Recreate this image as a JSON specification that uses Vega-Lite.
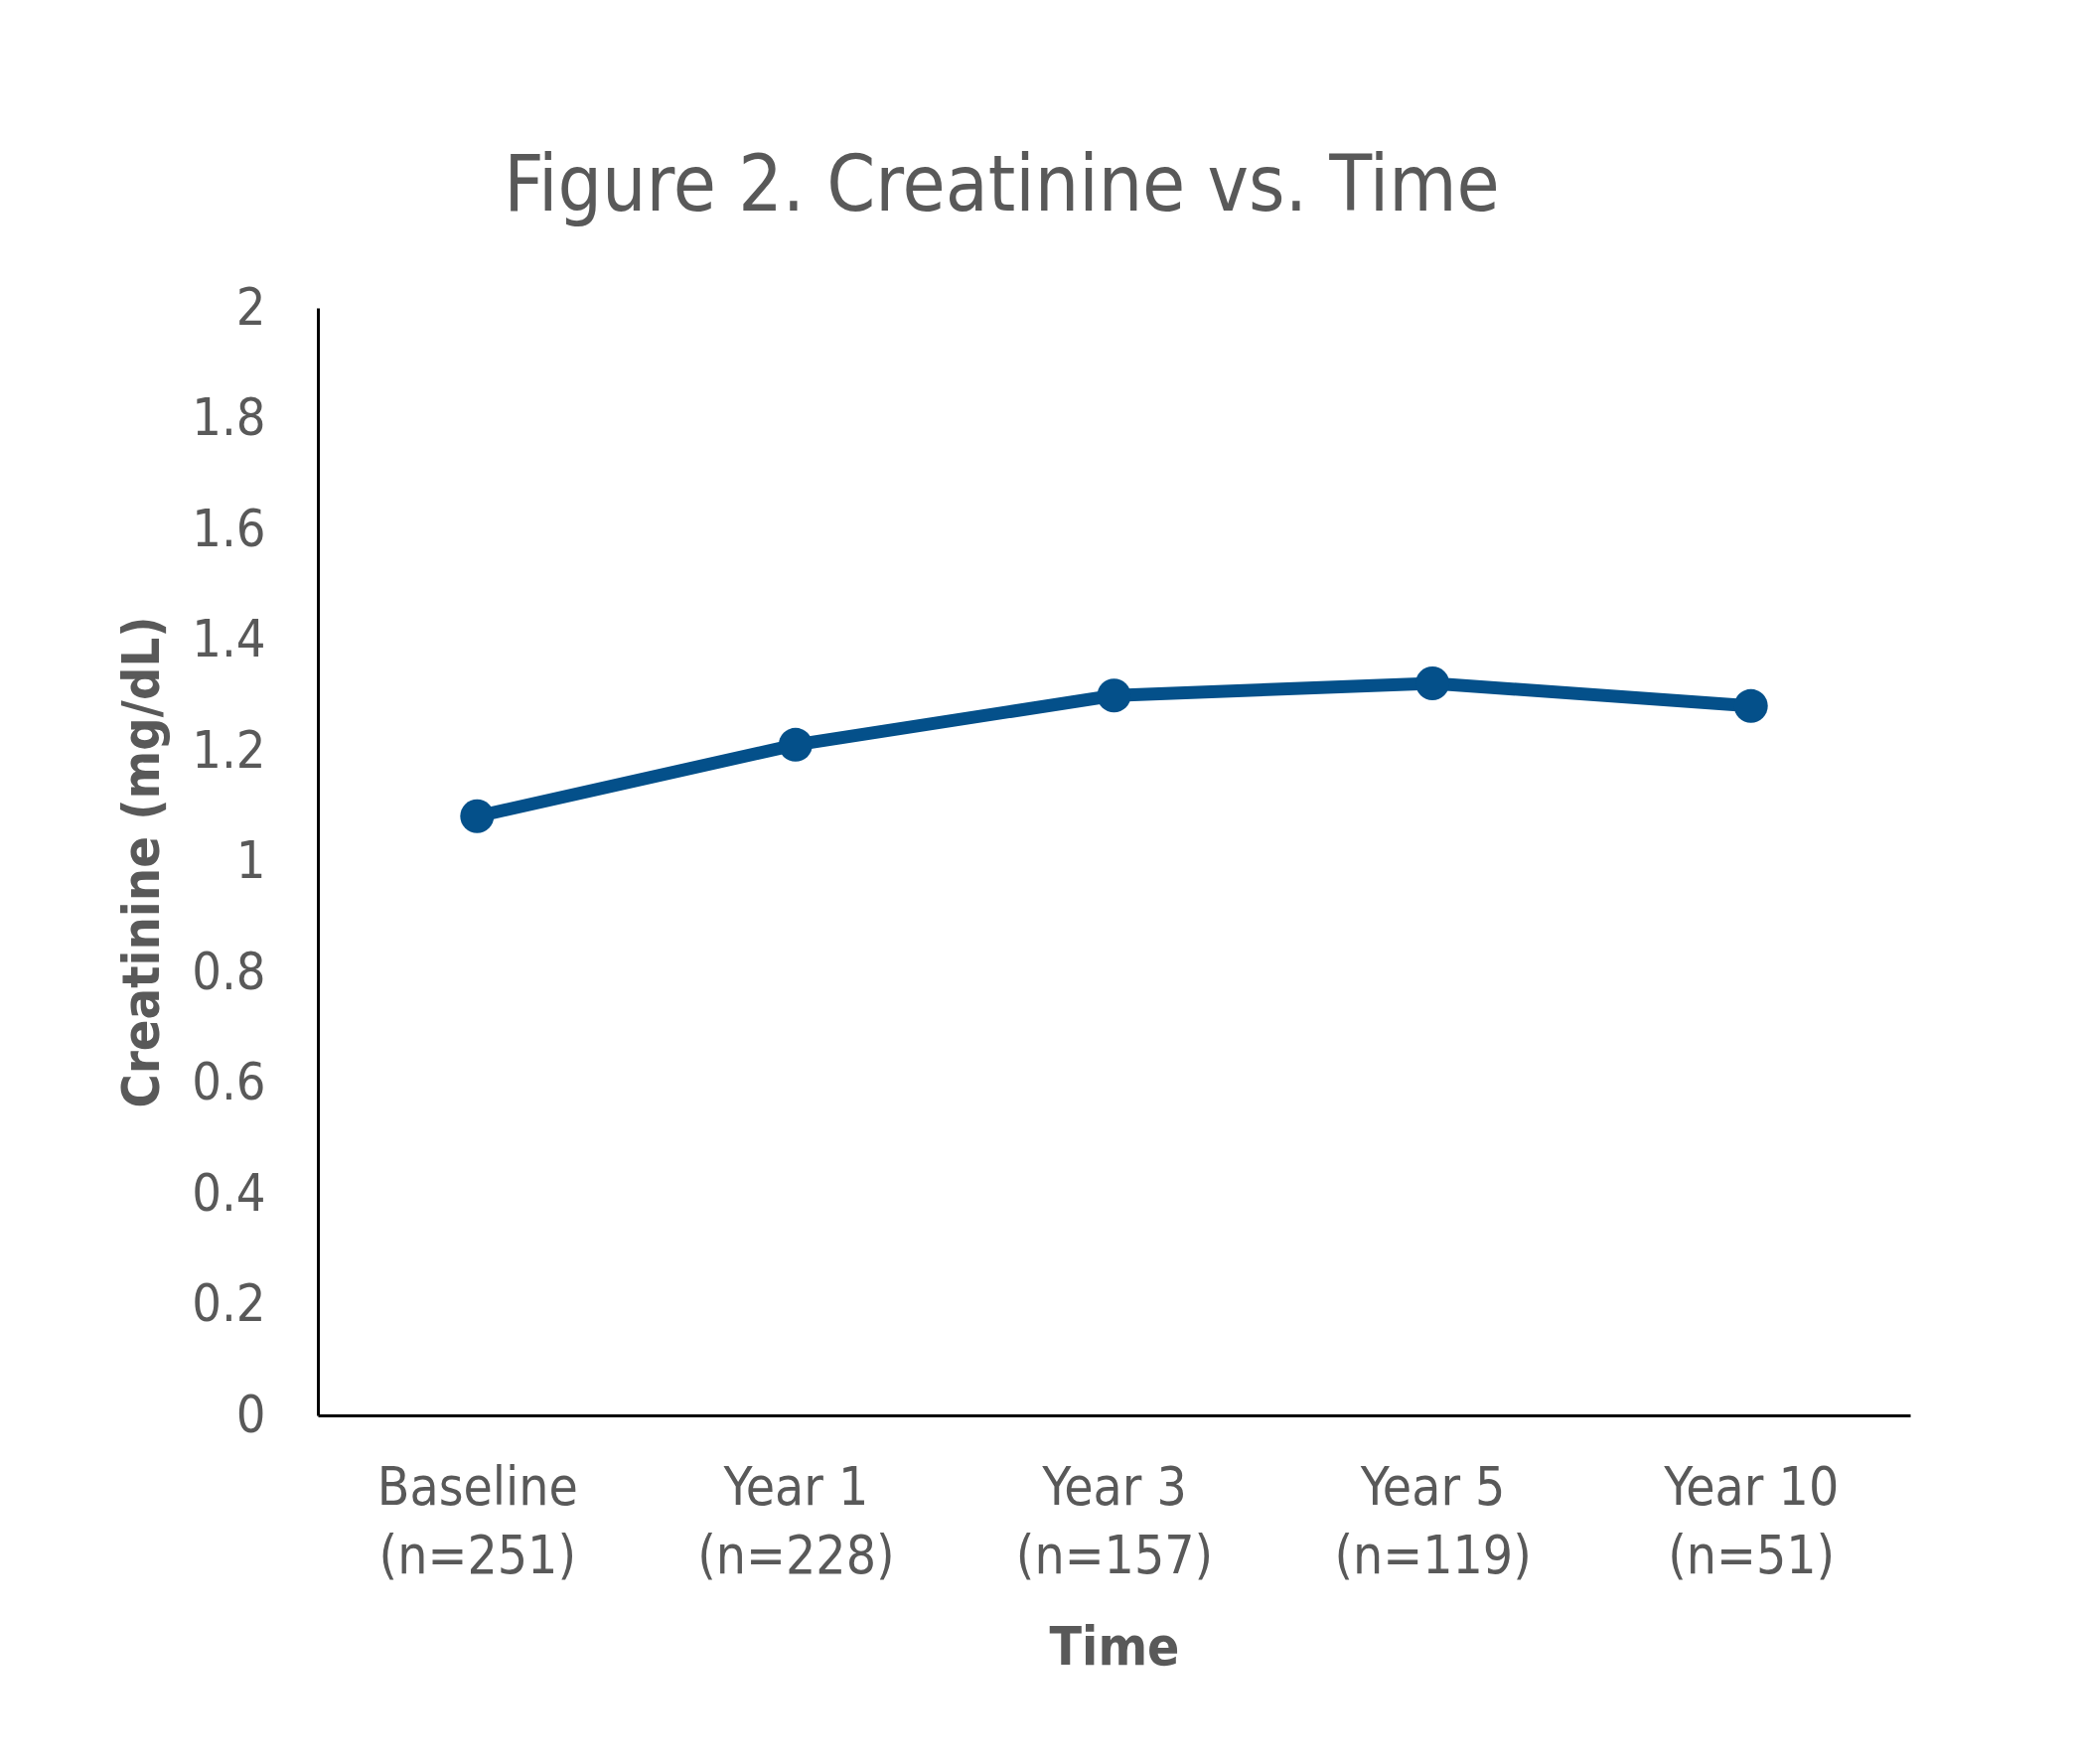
{
  "$schema": "https://vega.github.io/schema/vega-lite/v6.json",
  "autosize": {"type": "none"},
  "width": 1603,
  "height": 1115,
  "padding": {"left": 320, "top": 310, "right": 171, "bottom": 351},
  "background": "white",
  "config": {
    "view": {"stroke": null},
    "font": "DejaVu Sans Condensed, Liberation Sans Narrow, sans-serif"
  },
  "title": {
    "text": "Figure 2. Creatinine vs. Time",
    "fontSize": 78,
    "fontWeight": "normal",
    "color": "#595959",
    "anchor": "middle",
    "baseline": "alphabetic",
    "offset": 99,
    "dx": -113,
    "dy": 105
  },
  "data": {
    "values": [
      {"time": "Baseline (n=251)", "creatinine": 1.082},
      {"time": "Year 1 (n=228)", "creatinine": 1.211},
      {"time": "Year 3 (n=157)", "creatinine": 1.300},
      {"time": "Year 5 (n=119)", "creatinine": 1.322},
      {"time": "Year 10 (n=51)", "creatinine": 1.281}
    ]
  },
  "encoding": {
    "x": {
      "field": "time",
      "type": "ordinal",
      "sort": null,
      "scale": {"type": "point", "padding": 0.5},
      "axis": {
        "title": "Time",
        "titleFontSize": 53,
        "titleFontWeight": "bold",
        "titleColor": "#595959",
        "titleX": 801.5,
        "titleY": 234,
        "titleBaseline": "middle",
        "titleAlign": "center",
        "labelExpr": "[split(datum.label, ' (')[0], '(' + split(datum.label, ' (')[1]]",
        "labelAngle": 0,
        "labelFontSize": 53,
        "labelColor": "#595959",
        "labelLineHeight": 69,
        "labelBaseline": "middle",
        "labelPadding": 73,
        "labelLimit": 0,
        "ticks": false,
        "domainColor": "#000000",
        "domainWidth": 3,
        "grid": false
      }
    },
    "y": {
      "field": "creatinine",
      "type": "quantitative",
      "scale": {"domain": [0, 2], "nice": false},
      "axis": {
        "title": "Creatinine (mg/dL)",
        "titleFontSize": 52,
        "titleFontWeight": "bold",
        "titleColor": "#595959",
        "titleAngle": -90,
        "titleX": -177,
        "titleY": 557.5,
        "titleBaseline": "middle",
        "titleAlign": "center",
        "values": [0, 0.2, 0.4, 0.6, 0.8, 1, 1.2, 1.4, 1.6, 1.8, 2],
        "format": "~g",
        "labelFontSize": 52,
        "labelColor": "#595959",
        "labelPadding": 53,
        "labelFlush": false,
        "labelOverlap": false,
        "labelLimit": 0,
        "ticks": false,
        "domainColor": "#000000",
        "domainWidth": 3,
        "grid": false
      }
    }
  },
  "layer": [
    {"mark": {"type": "line", "color": "#04508A", "strokeWidth": 13}},
    {"mark": {"type": "point", "shape": "circle", "filled": true, "opacity": 1, "color": "#04508A", "size": 1156}}
  ]
}
